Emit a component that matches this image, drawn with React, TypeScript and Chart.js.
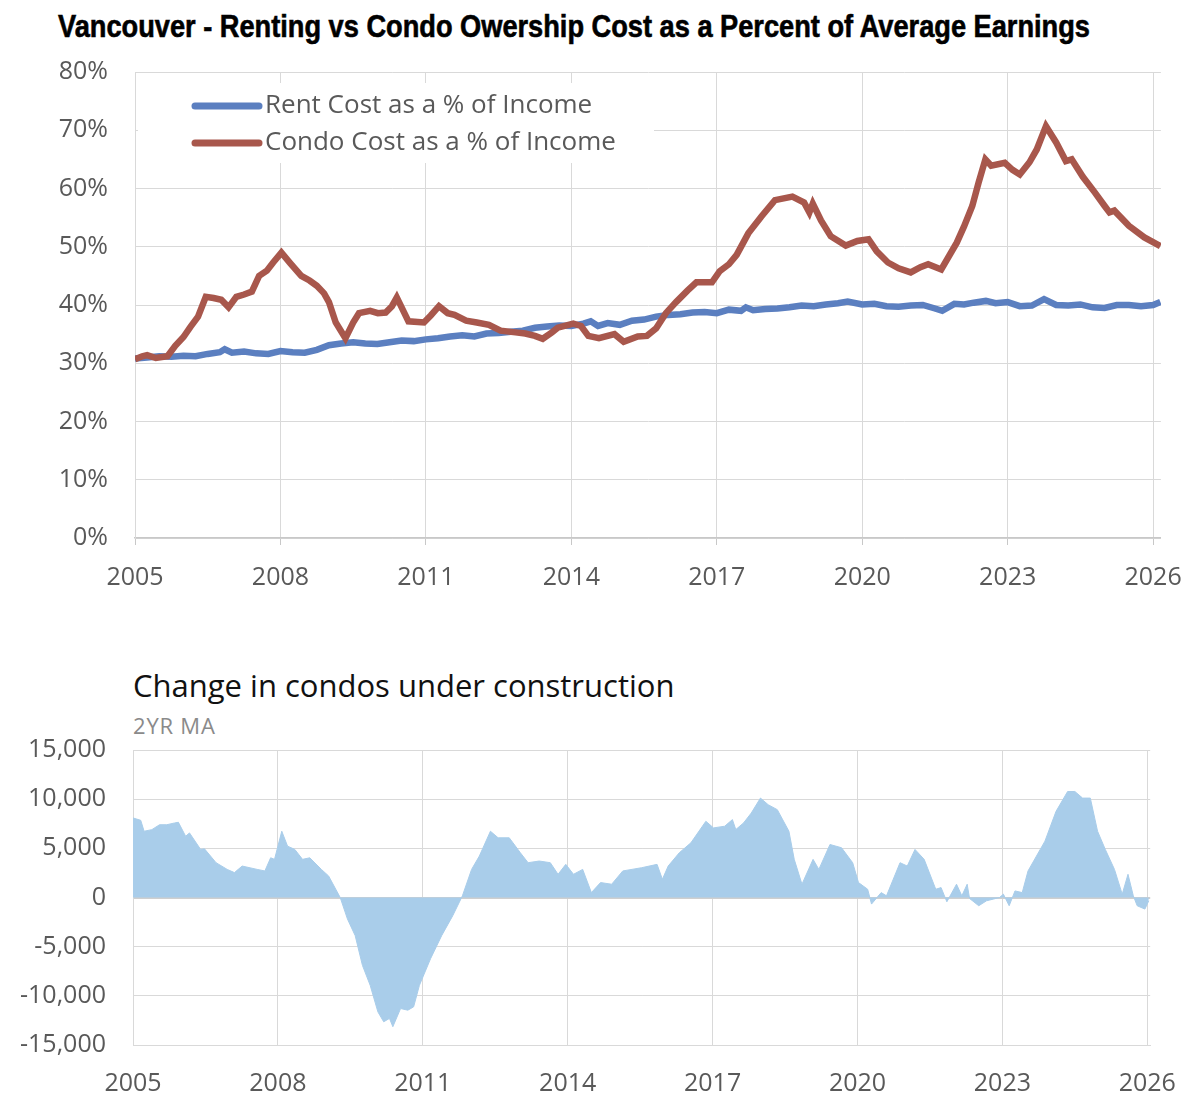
import { useEffect, useLayoutEffect, useRef } from "react"
import Chart from "chart.js/auto"

// top chart: cost as % of average earnings
const rentYears = [
  2005.0, 2005.25, 2005.5, 2005.75, 2006.0, 2006.25, 2006.5, 2006.75, 2006.85, 2007.0, 2007.25, 2007.5, 2007.75,
  2008.0, 2008.25, 2008.5, 2008.75, 2009.0, 2009.25, 2009.5, 2009.75, 2010.0, 2010.25, 2010.5, 2010.75, 2011.0,
  2011.25, 2011.5, 2011.75, 2012.0, 2012.25, 2012.5, 2012.75, 2013.0, 2013.25, 2013.5, 2013.75, 2014.0, 2014.25,
  2014.4, 2014.55, 2014.75, 2015.0, 2015.25, 2015.5, 2015.75, 2016.0, 2016.25, 2016.5, 2016.75, 2017.0, 2017.25,
  2017.5, 2017.6, 2017.75, 2018.0, 2018.25, 2018.5, 2018.75, 2019.0, 2019.25, 2019.5, 2019.7, 2020.0, 2020.25,
  2020.5, 2020.75, 2021.0, 2021.25, 2021.5, 2021.65, 2021.9, 2022.1, 2022.3, 2022.55, 2022.75, 2023.0, 2023.25,
  2023.5, 2023.75, 2024.0, 2024.25, 2024.5, 2024.75, 2025.0, 2025.25, 2025.5, 2025.75, 2026.0, 2026.15,
]
const rentPct = [
  30.8, 31.0, 31.2, 31.1, 31.3, 31.2, 31.6, 31.9, 32.4, 31.8, 32.0, 31.7, 31.6,
  32.1, 31.9, 31.8, 32.3, 33.1, 33.4, 33.6, 33.4, 33.3, 33.6, 33.9, 33.8, 34.1,
  34.3, 34.6, 34.8, 34.6, 35.1, 35.2, 35.4, 35.6, 36.1, 36.3, 36.5, 36.4, 36.8,
  37.2, 36.4, 36.9, 36.6, 37.3, 37.5, 38.0, 38.3, 38.4, 38.7, 38.8, 38.6, 39.2,
  39.0, 39.6, 39.1, 39.3, 39.4, 39.6, 39.9, 39.8, 40.1, 40.3, 40.6, 40.1, 40.2,
  39.8, 39.7, 39.9, 40.0, 39.4, 39.0, 40.2, 40.1, 40.4, 40.7, 40.3, 40.5, 39.8,
  39.9, 41.0, 40.0, 39.9, 40.1, 39.6, 39.5, 40.0, 40.0, 39.8, 40.0, 40.5,
]

const condoYears = [
  2005.0, 2005.15, 2005.25, 2005.43, 2005.67, 2005.83, 2006.0, 2006.14, 2006.3, 2006.46, 2006.62, 2006.78, 2006.93,
  2007.09, 2007.25, 2007.41, 2007.56, 2007.72, 2007.85, 2008.02, 2008.2, 2008.43, 2008.6, 2008.75, 2008.9, 2009.0,
  2009.14, 2009.34, 2009.5, 2009.62, 2009.85, 2010.01, 2010.17, 2010.3, 2010.4, 2010.64, 2010.96, 2011.1, 2011.27,
  2011.45, 2011.59, 2011.83, 2012.05, 2012.3, 2012.54, 2012.85, 2013.05, 2013.25, 2013.41, 2013.6, 2013.72, 2014.04,
  2014.2, 2014.35, 2014.57, 2014.89, 2015.08, 2015.37, 2015.56, 2015.75, 2015.95, 2016.16, 2016.4, 2016.58, 2016.9,
  2017.06, 2017.25, 2017.41, 2017.65, 2017.92, 2018.2, 2018.56, 2018.8, 2018.91, 2018.98, 2019.15, 2019.35, 2019.66,
  2019.9, 2020.13, 2020.3, 2020.53, 2020.75, 2021.0, 2021.2, 2021.36, 2021.63, 2021.95, 2022.1, 2022.27, 2022.4,
  2022.54, 2022.66, 2022.94, 2023.1, 2023.25, 2023.45, 2023.6, 2023.79, 2024.0, 2024.2, 2024.32, 2024.55, 2024.8,
  2025.0, 2025.1, 2025.2, 2025.5, 2025.82, 2026.15,
]
const condoPct = [
  30.7, 31.2, 31.4, 30.9, 31.2, 33.0, 34.5, 36.2, 38.0, 41.4, 41.2, 40.9, 39.6,
  41.4, 41.8, 42.3, 45.0, 45.9, 47.3, 49.0, 47.2, 45.0, 44.2, 43.3, 42.0, 40.5,
  37.0, 34.3, 37.0, 38.6, 39.0, 38.6, 38.7, 39.8, 41.3, 37.2, 37.0, 38.2, 39.8,
  38.6, 38.3, 37.3, 37.0, 36.6, 35.6, 35.3, 35.1, 34.7, 34.2, 35.3, 36.1, 36.8,
  36.4, 34.7, 34.3, 35.0, 33.7, 34.6, 34.7, 36.0, 38.6, 40.5, 42.5, 43.9, 43.9,
  45.8, 47.0, 48.6, 52.3, 55.2, 58.0, 58.6, 57.6, 55.9, 57.4, 54.5, 51.8, 50.2,
  51.0, 51.3, 49.2, 47.3, 46.3, 45.6, 46.5, 47.0, 46.1, 50.7, 53.5, 57.0, 61.0,
  65.0, 63.9, 64.4, 63.2, 62.4, 64.5, 66.7, 70.7, 67.9, 64.7, 65.0, 62.0, 59.3,
  57.0, 55.9, 56.2, 53.6, 51.6, 50.1,
]

// bottom chart: change in condos under construction, 2yr moving average
const buildYears = [
  2005.0, 2005.16, 2005.23, 2005.39, 2005.55, 2005.7, 2005.86, 2005.94, 2006.09, 2006.17, 2006.4, 2006.48, 2006.72,
  2006.95, 2007.1, 2007.26, 2007.57, 2007.73, 2007.85, 2007.93, 2008.08, 2008.2, 2008.35, 2008.51, 2008.66, 2008.9,
  2009.05, 2009.29, 2009.44, 2009.6, 2009.75, 2009.91, 2010.07, 2010.19, 2010.31, 2010.38, 2010.54, 2010.69, 2010.81,
  2010.93, 2011.16, 2011.39, 2011.62, 2011.82, 2012.01, 2012.17, 2012.4, 2012.56, 2012.79, 2013.02, 2013.18, 2013.41,
  2013.64, 2013.8, 2013.96, 2014.12, 2014.31, 2014.49, 2014.68, 2014.91, 2015.14, 2015.53, 2015.85, 2015.96, 2016.08,
  2016.31, 2016.55, 2016.86, 2017.02, 2017.25, 2017.41, 2017.48, 2017.64, 2017.8, 2017.99, 2018.15, 2018.34, 2018.58,
  2018.69, 2018.85, 2019.08, 2019.2, 2019.43, 2019.67, 2019.9, 2020.02, 2020.21, 2020.29, 2020.49, 2020.6, 2020.88,
  2021.03, 2021.19, 2021.38, 2021.62, 2021.73, 2021.85, 2022.05, 2022.16, 2022.27, 2022.32, 2022.51, 2022.67, 2022.94,
  2023.02, 2023.14, 2023.26, 2023.41, 2023.53, 2023.88, 2024.11, 2024.35, 2024.5, 2024.66, 2024.82, 2024.97, 2025.13,
  2025.32, 2025.48, 2025.6, 2025.71, 2025.79, 2025.95, 2026.03,
]
const buildChange = [
  8090, 7850, 6740, 6900, 7400, 7400, 7580, 7650, 6230, 6570, 4890, 4950, 3540,
  2860, 2530, 3200, 2860, 2700, 4040, 3880, 6740, 5220, 4890, 3880, 4040, 2860,
  2190, 0, -2190, -3880, -6900, -8930, -11630, -12640, -12300, -13140, -11290, -11460, -11120,
  -8930, -6230, -3880, -1850, 170, 2860, 4210, 6740, 6070, 6070, 4550, 3540, 3710,
  3540, 2360, 3370, 2360, 2860, 500, 1520, 1350, 2700, 3030, 3370, 1850, 3200,
  4550, 5560, 7750, 7080, 7250, 7920, 6910, 7580, 8590, 10110, 9440, 8930, 6740,
  3880, 1350, 3880, 2860, 5390, 5060, 3540, 1520, 840, -670, 500, 170, 3540,
  3200, 4890, 3880, 840, 1010, -440, 1350, 170, 1350, -100, -840, -340, 0,
  340, -840, 670, 500, 2700, 5730, 8760, 10780, 10780, 10110, 10110, 6740, 4890,
  2860, 340, 2360, 170, -840, -1180, -340,
]

const yearTicks = [2005, 2008, 2011, 2014, 2017, 2020, 2023, 2026]
const pctTicks = [0, 10, 20, 30, 40, 50, 60, 70, 80]
const changeTicks = [-15000, -10000, -5000, 0, 5000, 10000, 15000]

const tickFont = { family: "'Open Sans', sans-serif", size: 25 }
const gridColor = "#d9d9d9"
const labelColor = "#595959"

const toPoints = (xs, ys) => xs.map((x, i) => ({ x, y: ys[i] }))

// y axis: fixed width, and no extra top/bottom padding from the tick padding
const fixYAxis = (width) => (scale) => {
  scale.width = width
  scale.paddingTop = 0
  scale.paddingBottom = 0
}

// legend drawn inside the plot area on a white box
const insideLegend = {
  id: "insideLegend",
  afterDraw(chart) {
    const { ctx, chartArea } = chart
    ctx.save()
    ctx.fillStyle = "#ffffff"
    ctx.fillRect(chartArea.left + 3, chartArea.top + 11, 516, 80)
    chart.data.datasets.forEach((ds, i) => {
      const y = chartArea.top + 34 + i * 37
      ctx.strokeStyle = ds.borderColor
      ctx.lineWidth = 7
      ctx.lineCap = "round"
      ctx.beginPath()
      ctx.moveTo(chartArea.left + 60, y)
      ctx.lineTo(chartArea.left + 124, y)
      ctx.stroke()
      ctx.fillStyle = labelColor
      ctx.font = "26px 'Open Sans', sans-serif"
      ctx.textBaseline = "middle"
      ctx.textAlign = "left"
      ctx.fillText(ds.label, chartArea.left + 130, y)
    })
    ctx.restore()
  },
}

function CostChart() {
  const canvasRef = useRef(null)
  const chartRef = useRef(null)

  useEffect(() => {
    if (!canvasRef.current) return
    if (chartRef.current) chartRef.current.destroy()

    chartRef.current = new Chart(canvasRef.current, {
      type: "line",
      data: {
        datasets: [
          {
            label: "Rent Cost as a % of Income",
            data: toPoints(rentYears, rentPct),
            borderColor: "#5b7fc0",
            borderWidth: 6.5,
            pointRadius: 0,
            tension: 0,
            order: 1,
          },
          {
            label: "Condo Cost as a % of Income",
            data: toPoints(condoYears, condoPct),
            borderColor: "#a8574c",
            borderWidth: 6.5,
            pointRadius: 0,
            tension: 0,
            order: 0,
          },
        ],
      },
      options: {
        animation: false,
        responsive: false,
        layout: { padding: { top: 17, right: 38, left: 0, bottom: 0 } },
        plugins: { legend: { display: false }, tooltip: { enabled: false } },
        scales: {
          x: {
            type: "linear",
            min: 2005,
            max: 2026.16,
            afterBuildTicks: (scale) => {
              scale.ticks = yearTicks.map((v) => ({ value: v }))
            },
            afterFit: (scale) => {
              scale.height = 62
            },
            ticks: { font: tickFont, color: labelColor, padding: 18, maxRotation: 0, callback: (v) => String(v) },
            grid: { color: gridColor, tickLength: 7, tickColor: "#c8c8c8" },
            border: { color: "#c8c8c8", width: 1.5 },
          },
          y: {
            min: 0,
            max: 80,
            afterBuildTicks: (scale) => {
              scale.ticks = pctTicks.map((v) => ({ value: v }))
            },
            afterFit: fixYAxis(135),
            ticks: { font: tickFont, color: labelColor, padding: 27, callback: (v) => v + "%" },
            grid: { color: gridColor, drawTicks: false },
            border: { color: gridColor },
          },
        },
      },
      plugins: [insideLegend],
    })

    return () => {
      if (chartRef.current) {
        chartRef.current.destroy()
        chartRef.current = null
      }
    }
  }, [])

  return <canvas ref={canvasRef} width={1200} height={545} style={{ position: "absolute", left: 0, top: 55 }} />
}

function ConstructionChart() {
  const canvasRef = useRef(null)
  const chartRef = useRef(null)

  useEffect(() => {
    if (!canvasRef.current) return
    if (chartRef.current) chartRef.current.destroy()

    chartRef.current = new Chart(canvasRef.current, {
      type: "line",
      data: {
        datasets: [
          {
            label: "Change in condos under construction",
            data: toPoints(buildYears, buildChange),
            borderColor: "#a9cdea",
            borderWidth: 1,
            backgroundColor: "#a9cdea",
            fill: "origin",
            pointRadius: 0,
            tension: 0,
          },
        ],
      },
      options: {
        animation: false,
        responsive: false,
        layout: { padding: { top: 15, right: 32, left: 0, bottom: 0 } },
        plugins: { legend: { display: false }, tooltip: { enabled: false } },
        scales: {
          x: {
            type: "linear",
            min: 2005,
            max: 2026.06,
            z: 1,
            afterBuildTicks: (scale) => {
              scale.ticks = yearTicks.map((v) => ({ value: v }))
            },
            afterFit: (scale) => {
              scale.height = 60
            },
            ticks: { font: tickFont, color: labelColor, padding: 24, maxRotation: 0, callback: (v) => String(v) },
            grid: { color: gridColor, drawTicks: false },
            border: { color: gridColor },
          },
          y: {
            min: -15000,
            max: 15000,
            z: 1,
            afterBuildTicks: (scale) => {
              scale.ticks = changeTicks.map((v) => ({ value: v }))
            },
            afterFit: fixYAxis(133),
            ticks: { font: tickFont, color: labelColor, padding: 27, callback: (v) => Number(v).toLocaleString("en-US") },
            grid: {
              color: (c) => (c.tick && c.tick.value === 0 ? "#cfcfcf" : gridColor),
              lineWidth: (c) => (c.tick && c.tick.value === 0 ? 2 : 1),
              drawTicks: false,
            },
            border: { color: gridColor },
          },
        },
      },
    })

    return () => {
      if (chartRef.current) {
        chartRef.current.destroy()
        chartRef.current = null
      }
    }
  }, [])

  return <canvas ref={canvasRef} width={1200} height={370} style={{ position: "absolute", left: 0, top: 735 }} />
}

// bold condensed headline, squeezed to the width of the original
function Headline({ text, width }) {
  const ref = useRef(null)
  useLayoutEffect(() => {
    const el = ref.current
    if (!el) return
    el.style.transform = "none"
    const w = el.getBoundingClientRect().width
    if (w > 0) el.style.transform = `scaleX(${width / w})`
  }, [text, width])
  return (
    <div
      ref={ref}
      style={{
        position: "absolute",
        left: 58,
        top: 11,
        transformOrigin: "left top",
        fontFamily: "'Liberation Sans', Arial, sans-serif",
        fontWeight: 700,
        fontSize: 31,
        lineHeight: 1,
        color: "#000",
        WebkitTextStroke: "0.6px #000",
        whiteSpace: "nowrap",
      }}
    >
      {text}
    </div>
  )
}

export default function App() {
  return (
    <div style={{ position: "absolute", left: 0, top: 0, width: 1200, height: 1105, background: "#fff", overflow: "hidden" }}>
      <Headline text="Vancouver - Renting vs Condo Owership Cost as a Percent of Average Earnings" width={1032} />
      <CostChart />
      <div
        style={{
          position: "absolute",
          left: 133,
          top: 670,
          fontFamily: "'Open Sans', sans-serif",
          fontSize: 31,
          lineHeight: 1,
          color: "#111",
          whiteSpace: "nowrap",
        }}
      >
        Change in condos under construction
      </div>
      <div
        style={{
          position: "absolute",
          left: 133,
          top: 714,
          fontFamily: "'Open Sans', sans-serif",
          fontSize: 22,
          letterSpacing: 0.8,
          lineHeight: 1,
          color: "#8a8a8a",
          whiteSpace: "nowrap",
        }}
      >
        2YR MA
      </div>
      <ConstructionChart />
    </div>
  )
}
